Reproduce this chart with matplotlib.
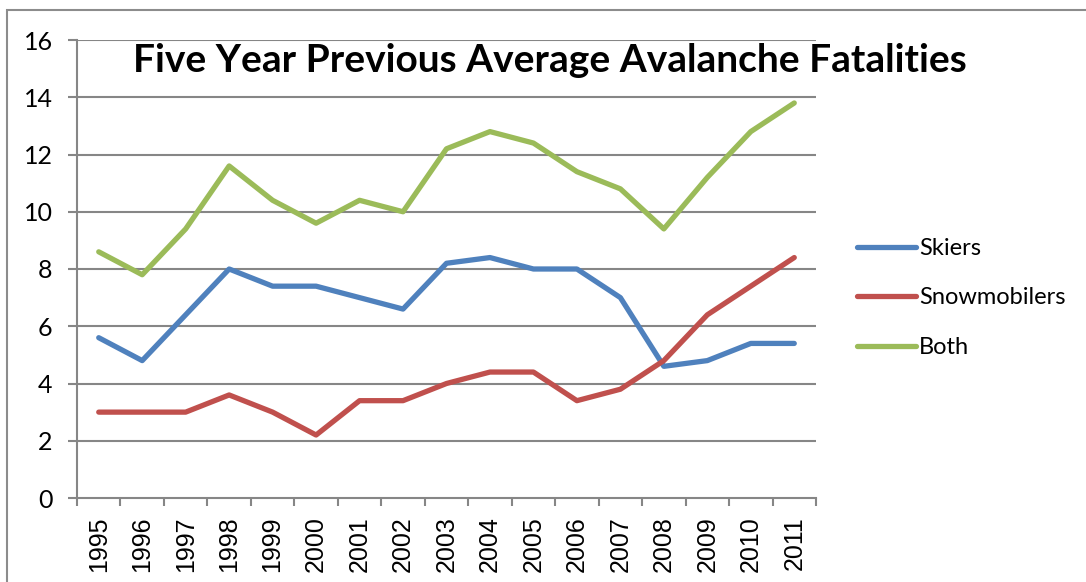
import numpy as np
import matplotlib
matplotlib.use('Agg')
import matplotlib.pyplot as plt
from matplotlib.patches import Rectangle

# --- data ---
years = ['1995', '1996', '1997', '1998', '1999', '2000', '2001', '2002', '2003',
         '2004', '2005', '2006', '2007', '2008', '2009', '2010', '2011']
skiers = [5.6, 4.8, 6.4, 8.0, 7.4, 7.4, 7.0, 6.6, 8.2, 8.4, 8.0, 8.0, 7.0, 4.6, 4.8, 5.4, 5.4]
snowmobilers = [3.0, 3.0, 3.0, 3.6, 3.0, 2.2, 3.4, 3.4, 4.0, 4.4, 4.4, 3.4, 3.8, 4.8, 6.4, 7.4, 8.4]
both = [8.6, 7.8, 9.4, 11.6, 10.4, 9.6, 10.4, 10.0, 12.2, 12.8, 12.4, 11.4, 10.8, 9.4, 11.2, 12.8, 13.8]
y_ticks = [0, 2, 4, 6, 8, 10, 12, 14, 16]

W, H = 1086, 582
fig = plt.figure(figsize=(W / 100, H / 100), dpi=100)

# outer chart border (runs off the right/bottom of the picture)
fig.patches.append(Rectangle((7 / W, -0.1), 1.2, (H - 10) / H + 0.1, transform=fig.transFigure,
                             fill=False, edgecolor='#8c8c8c', linewidth=1.5))

ax = fig.add_axes([77 / W, (H - 498) / H, (816 - 77) / W, (498 - 40) / H])
x = np.arange(len(years))

grid_c = '#868686'
for v in y_ticks[1:]:
    ax.axhline(v, color=grid_c, linewidth=1.5, zorder=1)

kw = dict(linewidth=3.8, solid_joinstyle='round', solid_capstyle='round', zorder=3)
ax.plot(x, skiers, color='#4F81BD', label='Skiers', **kw)
ax.plot(x, snowmobilers, color='#C0504D', label='Snowmobilers', **kw)
ax.plot(x, both, color='#9BBB59', label='Both', **kw)

ax.set_xlim(-0.5, len(years) - 0.5)
ax.set_ylim(0, 16)
ax.set_yticks(y_ticks)
ax.set_yticklabels([str(v) for v in y_ticks], fontfamily='Lato', fontsize=18)

ax.set_xticks(np.arange(-0.5, len(years), 1.0))
ax.set_xticklabels([])
ax.set_xticks(x, minor=True)
ax.set_xticklabels(years, minor=True, rotation=90, fontfamily='Liberation Sans', fontsize=18)
ax.tick_params(axis='x', which='major', length=6, width=1.5, color=grid_c, direction='out')
ax.tick_params(axis='x', which='minor', length=0, pad=13)
ax.tick_params(axis='y', length=6.5, width=1.5, color=grid_c, pad=11)

for s in ['top', 'right']:
    ax.spines[s].set_visible(False)
for s in ['left', 'bottom']:
    ax.spines[s].set_color(grid_c)
    ax.spines[s].set_linewidth(1.5)

leg = ax.legend(loc='center left', bbox_to_anchor=(836 / W, (H - 298) / H),
                bbox_transform=fig.transFigure, frameon=False,
                prop={'family': 'Lato', 'size': 17}, handlelength=2.5,
                handletextpad=0.12, labelspacing=1.2)

fig.text(550 / W, (H - 60) / H, 'Five Year Previous Average Avalanche Fatalities',
         ha='center', va='center', fontfamily='Lato', fontweight='bold', fontsize=28)

fig.savefig('out.png', dpi=100)
